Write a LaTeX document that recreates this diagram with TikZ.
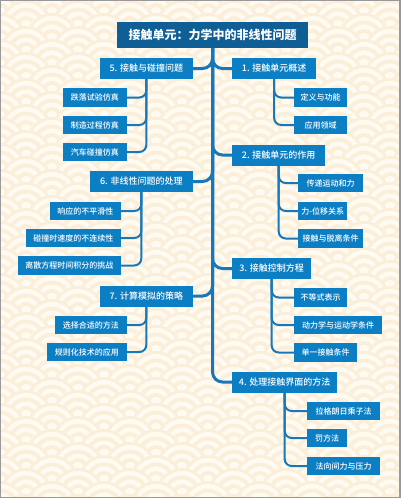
\documentclass[tikz,border=0pt]{standalone}
\usepackage{fontspec}
\setmainfont{Noto Sans CJK SC}
\newfontfamily\medfont{Noto Sans CJK SC Medium}
\definecolor{bgc}{HTML}{FBEFD9}
\definecolor{ringw}{HTML}{FFFAF2}
\definecolor{titleblue}{HTML}{0F5E96}
\definecolor{nodeblue}{HTML}{0C7FC4}
\definecolor{lineblue}{HTML}{1677BA}
\pgfdeclarelayer{pattern}
\pgfdeclarelayer{lines}
\pgfsetlayers{pattern,lines,main}
\begin{document}
\begin{tikzpicture}[x=1pt,y=-1pt,
  titlebox/.style={fill=titleblue, text=white, font=\bfseries\fontsize{12}{14}\selectfont, minimum height=26pt, minimum width=191pt, inner sep=0pt},
  parentbox/.style={fill=nodeblue, text=white, font=\medfont\fontsize{9}{11}\selectfont, minimum height=21pt, inner sep=0pt},
  childbox/.style={fill=nodeblue, text=white, font=\medfont\fontsize{8}{10}\selectfont, minimum height=18.5pt, inner sep=0pt},
  trunk/.style={draw=lineblue, line width=3pt, rounded corners=10pt},
  twig/.style={draw=lineblue, line width=2pt, rounded corners=7pt}]
\useasboundingbox (0,0) rectangle (400,498);
\begin{pgfonlayer}{pattern}
\begin{scope}
\clip (0,0) rectangle (400,498);
\fill[bgc] (0,0) rectangle (400,498);
\foreach \j in {0,...,41} {
  \pgfmathsetmacro\off{mod(\j,2)*26}
  \pgfmathsetmacro\cy{\j*13-13}
  \foreach \i in {-1,...,8} {
    \pgfmathsetmacro\cx{\i*52+\off}
    \fill[bgc] (\cx,\cy) circle[radius=26pt];
    \fill[ringw] (\cx,\cy) circle[radius=23pt];
    \fill[bgc] (\cx,\cy) circle[radius=18.5pt];
    \fill[ringw] (\cx,\cy) circle[radius=14.5pt];
    \fill[bgc] (\cx,\cy) circle[radius=10pt];
    \fill[ringw] (\cx,\cy) circle[radius=6pt];
  }
}
\end{scope}
\draw[gray!80, line width=1.5pt] (0,0) rectangle (400,498);
\end{pgfonlayer}

% title
\node[titlebox] (t) at (212.5,35) {接触单元：力学中的非线性问题};

% left parents
\node[parentbox, anchor=east, minimum width=93pt] (p5) at (193,68.5) {5. 接触与碰撞问题};
\node[parentbox, anchor=east, minimum width=103pt] (p6) at (193,181.5) {6. 非线性问题的处理};
\node[parentbox, anchor=east, minimum width=93pt] (p7) at (193,296) {7. 计算模拟的策略};
% right parents
\node[parentbox, anchor=west, minimum width=84pt] (p1) at (232,68.5) {1. 接触单元概述};
\node[parentbox, anchor=west, minimum width=93pt] (p2) at (232,155) {2. 接触单元的作用};
\node[parentbox, anchor=west, minimum width=79pt] (p3) at (232,268.5) {3. 接触控制方程};
\node[parentbox, anchor=west, minimum width=105pt] (p4) at (232,382) {4. 处理接触界面的方法};

% children of 5
\node[childbox, anchor=east, minimum width=64pt] (c51) at (127,97.5) {跌落试验仿真};
\node[childbox, anchor=east, minimum width=64pt] (c52) at (127,125) {制造过程仿真};
\node[childbox, anchor=east, minimum width=64pt] (c53) at (127,152) {汽车碰撞仿真};
% children of 6
\node[childbox, anchor=east, minimum width=71pt] (c61) at (121,211) {响应的不平滑性};
\node[childbox, anchor=east, minimum width=95pt] (c62) at (121,238) {碰撞时速度的不连续性};
\node[childbox, anchor=east, minimum width=103pt] (c63) at (121,265.5) {离散方程时间积分的挑战};
% children of 7
\node[childbox, anchor=east, minimum width=72pt] (c71) at (127,325) {选择合适的方法};
\node[childbox, anchor=east, minimum width=80pt] (c72) at (127,352) {规则化技术的应用};
% children of 1
\node[childbox, anchor=west, minimum width=53pt] (c11) at (294,97.5) {定义与功能};
\node[childbox, anchor=west, minimum width=53pt] (c12) at (294,125) {应用领域};
% children of 2
\node[childbox, anchor=west, minimum width=65pt] (c21) at (298,183) {传递运动和力};
\node[childbox, anchor=west, minimum width=49pt] (c22) at (298,211) {力-位移关系};
\node[childbox, anchor=west, minimum width=65pt] (c23) at (298,238.5) {接触与脱离条件};
% children of 3
\node[childbox, anchor=west, minimum width=53pt] (c31) at (294,297.5) {不等式表示};
\node[childbox, anchor=west, minimum width=88pt] (c32) at (294,325) {动力学与运动学条件};
\node[childbox, anchor=west, minimum width=63pt] (c33) at (294,352.5) {单一接触条件};
% children of 4
\node[childbox, anchor=west, minimum width=73pt] (c41) at (307,411) {拉格朗日乘子法};
\node[childbox, anchor=west, minimum width=40pt] (c42) at (307,438) {罚方法};
\node[childbox, anchor=west, minimum width=73pt] (c43) at (307,466) {法向间力与压力};

\begin{pgfonlayer}{lines}
\foreach \p in {p5,p6,p7} \draw[trunk] (t.south) |- (\p.east);
\foreach \p in {p1,p2,p3,p4} \draw[trunk] (t.south) |- (\p.west);
\foreach \c in {c51,c52,c53} \draw[twig] (p5.south) |- (\c.east);
\foreach \c in {c61,c62,c63} \draw[twig] (p6.south) |- (\c.east);
\foreach \c in {c71,c72} \draw[twig] (p7.south) |- (\c.east);
\foreach \c in {c11,c12} \draw[twig] (p1.south) |- (\c.west);
\foreach \c in {c21,c22,c23} \draw[twig] (p2.south) |- (\c.west);
\foreach \c in {c31,c32,c33} \draw[twig] (p3.south) |- (\c.west);
\foreach \c in {c41,c42,c43} \draw[twig] (p4.south) |- (\c.west);
\end{pgfonlayer}
\end{tikzpicture}
\end{document}
